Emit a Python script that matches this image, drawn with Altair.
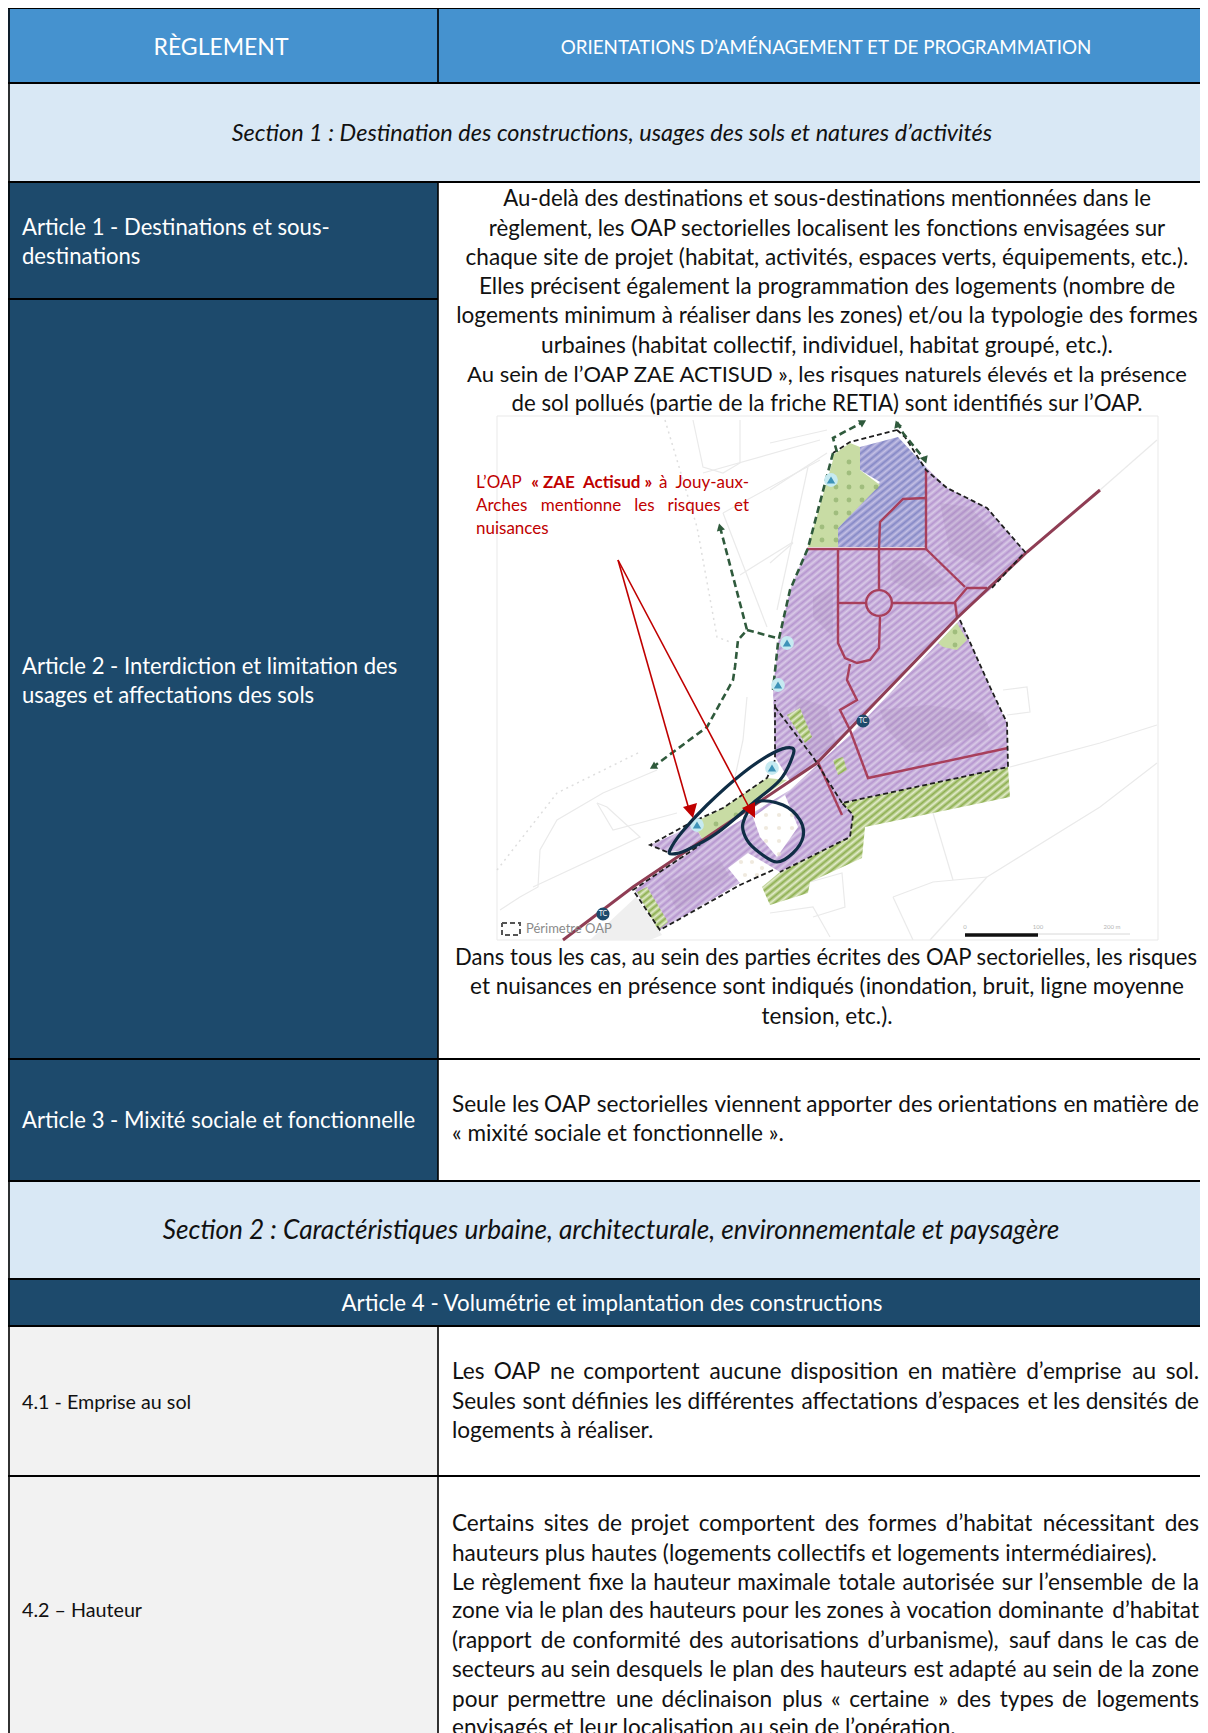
import math
import altair as alt
import pandas as pd

# ---------- table ----------
CELL_X0 = [8, 438, 8, 8, 438, 8, 438, 8, 8, 8, 438, 8, 438]
CELL_X1 = [438, 1208, 1208, 438, 1208, 438, 1208, 1208, 1208, 438, 1208, 438, 1208]
CELL_Y0 = [8, 8, 83, 182, 182, 1059, 1059, 1181, 1279, 1326, 1326, 1476, 1476]
CELL_Y1 = [83, 83, 182, 1059, 1059, 1181, 1181, 1279, 1326, 1476, 1476, 1733, 1733]
CELL_FILL = ["#4592CF", "#4592CF", "#D9E8F5", "#1D4A6C", "#FFFFFF", "#1D4A6C", "#FFFFFF",
             "#D9E8F5", "#1D4A6C", "#F2F2F2", "#FFFFFF", "#F2F2F2", "#FFFFFF"]

HLINE_Y = [8, 83, 182, 299, 1059, 1181, 1279, 1326, 1476]
HLINE_X0 = [8, 8, 8, 8, 8, 8, 8, 8, 8]
HLINE_X1 = [1208, 1208, 1208, 438, 1208, 1208, 1208, 1208, 1208]
VLINE_X = [9, 438, 438, 438]
VLINE_Y0 = [8, 8, 182, 1326]
VLINE_Y1 = [1733, 83, 1181, 1733]

HEADERS = ["RÈGLEMENT", "ORIENTATIONS D’AMÉNAGEMENT ET DE PROGRAMMATION"]
HEADER_X = [221, 826]
HEADER_SIZE = [23, 18.8]
SECTIONS = ["Section 1 : Destination des constructions, usages des sols et natures d’activités",
            "Section 2 : Caractéristiques urbaine, architecturale, environnementale et paysagère"]
SECTION_X = [612, 611]
SECTION_Y = [134, 1231]
SECTION_SIZE = [23.5, 26.2]

LEFT_LABELS = ["Article 1 - Destinations et sous-", "destinations",
               "Article 2 - Interdiction et limitation des", "usages et affectations des sols",
               "Article 3 - Mixité sociale et fonctionnelle"]
LEFT_Y = [228, 257, 667, 696, 1121]
SMALL_LABELS = ["4.1 - Emprise au sol", "4.2 – Hauteur"]
SMALL_Y = [1403, 1611]

CENTER_LINES = [
    "Au-delà des destinations et sous-destinations mentionnées dans le",
    "règlement, les OAP sectorielles localisent les fonctions envisagées sur",
    "chaque site de projet (habitat, activités, espaces verts, équipements, etc.).",
    "Elles précisent également la programmation des logements (nombre de",
    "logements minimum à réaliser dans les zones) et/ou la typologie des formes",
    "urbaines (habitat collectif, individuel, habitat groupé, etc.).",
    "Au sein de l’OAP ZAE ACTISUD », les risques naturels élevés et la présence",
    "de sol pollués (partie de la friche RETIA) sont identifiés sur l’OAP.",
    "Dans tous les cas, au sein des parties écrites des OAP sectorielles, les risques",
    "et nuisances en présence sont indiqués (inondation, bruit, ligne moyenne",
    "tension, etc.).",
]
CENTER_Y = [199, 228.5, 257.5, 287, 316, 346, 375, 404, 957.5, 987, 1017]
CENTER_SIZE = [22.2, 22.25, 22.6, 22.55, 22.55, 22.7, 22.0, 22.25, 22.1, 22.5, 22.5]
CENTER_X = [827, 827, 827, 827, 827, 827, 827, 827, 826, 827, 827]

JUST_LINES = [
    "Seule les OAP sectorielles viennent apporter des orientations en matière de",
    "Les OAP ne comportent aucune disposition en matière d’emprise au sol.",
    "Seules sont définies les différentes affectations d’espaces et les densités de",
    "Certains sites de projet comportent des formes d’habitat nécessitant des",
    "Le règlement fixe la hauteur maximale totale autorisée sur l’ensemble de la",
    "zone via le plan des hauteurs pour les zones à vocation dominante d’habitat",
    "(rapport de conformité des autorisations d’urbanisme), sauf dans le cas de",
    "secteurs au sein desquels le plan des hauteurs est adapté au sein de la zone",
    "pour permettre une déclinaison plus « certaine » des types de logements",
]
JUST_Y = [1105, 1372, 1401.5, 1524, 1582.5, 1611, 1640.5, 1670, 1699.5]
PLAIN_LINES = [
    "« mixité sociale et fonctionnelle ».",
    "logements à réaliser.",
    "hauteurs plus hautes (logements collectifs et logements intermédiaires).",
    "envisagés et leur localisation au sein de l’opération.",
]
PLAIN_Y = [1134, 1431, 1553.5, 1728]

RED_TOKENS = [["L’OAP", "« ZAE", "Actisud »", "à", "Jouy-aux-"],
              ["Arches", "mentionne", "les", "risques", "et"]]
RED_BOLD = ["« ZAE", "Actisud »"]
RED_Y = [483, 506]
RED_LAST = "nuisances"
RED_LAST_Y = 529

# ---------- map shapes ----------
MAP_FRAME = [(497, 416), (1158, 416), (1158, 940), (497, 940), (497, 416)]
URBAN = [(606, 925), (636, 897), (662, 935), (650, 940), (590, 940)]
PURPLE_N = [(807, 548), (790, 590), (778, 643), (773, 690), (775, 757), (790, 781), (817, 763),
            (957, 618), (990, 590), (1025, 552), (987, 508), (947, 488), (926, 467), (926, 549)]
PURPLE_S = [(960, 620), (990, 687), (1007, 723), (1008, 767), (842, 803), (853, 815), (850, 837),
            (780, 872), (748, 853), (728, 868), (740, 883), (660, 930), (635, 890), (647, 880),
            (700, 845), (790, 790), (850, 735)]
PURPLE_W = [(650, 845), (677, 833), (693, 823), (703, 840), (687, 850), (667, 852)]
BLUE = [(860, 453), (860, 470), (880, 482), (838, 528), (838, 547), (926, 547), (926, 467),
        (898, 437), (860, 447)]
BUILDINGS = [
    [(880, 710), (927, 705), (983, 713), (990, 730), (937, 750), (910, 753), (887, 730)],
    [(940, 503), (970, 507), (1003, 543), (983, 567), (950, 553)],
    [(893, 560), (920, 560), (947, 583), (917, 593), (890, 580)],
    [(813, 597), (833, 587), (833, 637), (813, 617)],
    [(797, 697), (827, 707), (837, 747), (813, 757), (793, 723)],
    [(663, 883), (720, 860), (730, 877), (677, 910)],
]
WHITE_BLOCK = [(753, 817), (785, 795), (798, 827), (777, 857), (760, 837)]
GREEN_SOLID = [
    [(833, 455), (850, 443), (860, 447), (860, 470), (880, 485), (838, 528), (838, 547), (808, 547), (833, 460)],
    [(693, 823), (723, 808), (767, 778), (787, 780), (753, 803), (703, 840)],
    [(938, 643), (957, 623), (967, 640), (957, 650), (943, 647)],
]
GREEN_HATCH = [
    [(842, 803), (1008, 767), (1010, 797), (933, 813), (865, 827), (862, 858), (810, 882), (808, 893),
     (770, 905), (762, 887), (780, 872), (850, 837), (853, 815)],
    [(787, 715), (800, 708), (812, 737), (805, 743)],
    [(833, 760), (843, 757), (847, 770), (838, 775)],
    [(637, 892), (647, 887), (668, 922), (658, 930)],
]
GREY_LINES = [
    [(693, 420), (703, 467), (723, 473), (740, 463), (740, 420)],
    [(703, 473), (820, 440)], [(723, 513), (820, 460)], [(770, 443), (827, 430)],
    [(740, 575), (793, 542)], [(723, 513), (767, 627)], [(770, 490), (827, 453)],
    [(770, 563), (793, 543)], [(808, 467), (777, 610)],
    [(533, 887), (640, 837), (607, 807), (597, 803)],
    [(500, 910), (520, 897), (538, 887), (540, 850), (557, 820), (603, 793), (657, 770)],
    [(597, 803), (613, 830), (677, 813)], [(747, 697), (743, 740), (735, 777)],
    [(933, 813), (953, 880)], [(893, 897), (933, 882), (987, 877)], [(893, 897), (913, 940)],
    [(987, 877), (930, 940)], [(987, 877), (1100, 807), (1157, 763)],
    [(1010, 767), (1100, 743), (1157, 725)],
    [(1003, 690), (1027, 687), (1030, 712), (1007, 715)],
    [(810, 882), (842, 873), (845, 907), (813, 917)], [(770, 913), (813, 907), (830, 937)],
    [(1100, 490), (1157, 440)],
]
GREY_DOTTED = [
    [(665, 420), (697, 527), (717, 637), (730, 642)],
    [(497, 870), (557, 793), (640, 752)],
]
ROADS = [
    [(807, 549), (926, 549)], [(926, 470), (926, 549)],
    [(926, 498), (903, 499), (880, 522), (879, 548)], [(879, 548), (879, 590)],
    [(838, 548), (838, 643), (845, 658), (857, 663), (870, 660), (879, 648), (880, 617)],
    [(838, 603), (867, 603)], [(892, 603), (955, 603)], [(926, 549), (965, 587)],
    [(987, 588), (967, 588), (955, 602), (957, 617)],
    [(850, 664), (847, 680), (857, 700), (840, 710), (850, 730), (868, 778), (1008, 748)],
    [(817, 760), (842, 815)],
]
ROUNDABOUT = [(879, 603)]
RAIL = [(563, 940), (633, 887), (817, 763), (957, 618), (1027, 552), (1100, 490)]
BLACK_DASH = [
    [(897, 430), (905, 437), (926, 470), (947, 488), (987, 508), (1025, 552), (990, 590)],
    [(960, 620), (990, 687), (1007, 723), (1008, 767), (842, 803), (853, 815), (850, 837), (780, 872)],
    [(773, 870), (740, 885), (660, 930), (633, 890), (700, 845)],
    [(667, 852), (650, 845), (690, 823), (723, 808), (767, 778), (775, 760), (775, 700)],
    [(775, 707), (813, 757), (842, 803)],
    [(833, 453), (850, 442), (897, 430)],
]
GREEN_DASH = [
    [(833, 453), (808, 548), (790, 590), (778, 643), (773, 690)],
    [(837, 452), (833, 438), (863, 422)],
    [(897, 422), (903, 433), (925, 460)],
    [(720, 527), (747, 630), (738, 640), (735, 667), (733, 680), (707, 727), (653, 767)],
    [(747, 630), (777, 638)],
]
GREEN_ARROW_X = [720, 863, 897, 925, 653]
GREEN_ARROW_Y = [527, 422, 424, 460, 767]
GREEN_ARROW_A = [345, 60, 340, 160, 240]
ELLIPSE_A = [(670, 850), (682, 832), (707, 805), (743, 773), (773, 753), (792, 748), (792, 758),
             (780, 780), (753, 803), (717, 833), (687, 850), (672, 854)]
ELLIPSE_B = [(757, 802), (783, 805), (800, 820), (803, 837), (793, 853), (777, 862), (760, 853),
             (747, 840), (743, 823)]
RED_LINES = [[(618, 560), (690, 813)], [(618, 560), (752, 813)]]
RED_HEADS = [[(683, 807), (697, 803), (693, 818)], [(742, 808), (755, 802), (755, 818)]]
DOTS_GREEN = [(849, 462), (849, 473), (836, 487), (849, 487), (862, 487), (876, 487), (836, 500),
              (849, 500), (862, 500), (836, 513), (849, 513), (822, 527), (836, 527), (822, 540),
              (836, 540), (955, 632), (955, 645), (716, 824), (736, 815)]
DOTS_TAN = [(766, 815), (779, 815), (792, 815), (766, 828), (779, 828), (792, 828), (766, 841),
            (779, 841), (779, 854), (741, 862), (752, 862), (762, 868), (745, 875), (757, 875)]
CYAN_MARKS = [(787, 643), (778, 685), (831, 480), (772, 768), (697, 825)]
TC_MARKS = [(603, 914), (863, 721)]
LEGEND_BOX = [(502, 923), (520, 923), (520, 935), (502, 935), (502, 923)]
SCALE_BAR = [(965, 935), (1038, 935)]
SCALE_THIN = [(1038, 934), (1130, 934)]
SCALE_TEXT = ["0", "100", "200 m"]
SCALE_TEXT_X = [965, 1038, 1112]

# ---------- helpers ----------
X = alt.X("x:Q", scale=alt.Scale(domain=[8, 1200], nice=False, zero=False), axis=None)
Y = alt.Y("y:Q", scale=alt.Scale(domain=[1733, 8], nice=False, zero=False), axis=None)

W = dict(zip("abcdefghijklmnopqrstuvwxyz",
             [506, 560, 466, 560, 524, 322, 504, 549, 240, 240, 513, 240, 811, 549, 571, 552, 560,
              368, 429, 349, 549, 498, 750, 492, 498, 451]))
W.update(dict(zip("ABCDEFGHIJKLMNOPQRSTUVWXYZ",
                  [680, 650, 660, 740, 580, 560, 710, 740, 270, 400, 650, 490, 900, 750, 800, 600,
                   800, 630, 560, 580, 720, 680, 1020, 650, 620, 620])))
ACC = str.maketrans("àâéèêëîïôùûç", "aaeeeeiioouc")


def est(word, size):
    s = 0
    for ch in word.translate(ACC):
        if ch in W:
            s += W[ch]
        elif ch.isdigit():
            s += 580
        elif ch in "«»":
            s += 430
        elif ch == "-":
            s += 370
        elif ch in ".,:’":
            s += 230
        else:
            s += 300
    return 1.02 * s * size / 1000


def justify(tokens, left, right, y, size):
    total = sum(est(t, size) for t in tokens)
    gap = (right - left - total) / (len(tokens) - 1)
    rows, x = [], left
    for t in tokens:
        rows.append({"x": x, "y": y, "t": t, "r": x + est(t, size)})
        x += est(t, size) + gap
    return rows


def pts(seq):
    return pd.DataFrame([{"x": a, "y": b, "i": i} for i, (a, b) in enumerate(seq)])


def stripes(seq, a, b, pitch=5.4, dx=1.0, dy=-0.82):
    xs = [p[0] for p in seq]
    ys = [p[1] for p in seq]
    w, h = max(xs) - min(xs), max(ys) - min(ys)
    nx, ny = dy / h, -dx / w
    nn = nx * nx + ny * ny
    ts = [((cx - .5) * nx + (cy - .5) * ny) / nn for cx in (0, 1) for cy in (0, 1)]
    t0, t1 = min(ts), max(ts)
    x1, y1 = .5 + nx * t0, .5 + ny * t0
    x2, y2 = .5 + nx * t1, .5 + ny * t1
    vx, vy = (x2 - x1) * w, (y2 - y1) * h
    dist = abs(vx * dy - vy * dx) / math.hypot(dx, dy)
    n = max(2, round(dist / pitch))
    st = []
    for i in range(n):
        st.append({"offset": i / n, "color": a})
        st.append({"offset": (i + .5) / n, "color": b})
    st.append({"offset": 1, "color": a})
    return {"gradient": "linear", "stops": st, "x1": x1, "y1": y1, "x2": x2, "y2": y2}


def poly(seq, fill, opacity=1.0):
    return alt.Chart(pts(seq)).mark_line(interpolate="linear-closed", fill=fill, fillOpacity=opacity,
                                         stroke="transparent", strokeWidth=0).encode(
        x=X, y=Y, order=alt.Order("i:Q"))


def line(seq, color, width, dash=None, interp="linear", opacity=1.0):
    kw = {"strokeDash": dash} if dash else {}
    return alt.Chart(pts(seq)).mark_line(color=color, strokeWidth=width, interpolate=interp,
                                         opacity=opacity, **kw).encode(x=X, y=Y, order=alt.Order("i:Q"))


def text(rows, **mk):
    return alt.Chart(pd.DataFrame(rows)).mark_text(baseline="middle", **mk).encode(x=X, y=Y, text="t:N")


def points(seq, **mk):
    return alt.Chart(pts(seq)).mark_point(filled=True, **mk).encode(x=X, y=Y)


# ---------- layers ----------
layers = []
cells = pd.DataFrame({"x": CELL_X0, "x2": CELL_X1, "y": CELL_Y0, "y2": CELL_Y1, "f": CELL_FILL})
layers.append(alt.Chart(cells).mark_rect().encode(
    x=X, x2="x2:Q", y=Y, y2="y2:Q", fill=alt.Fill("f:N", scale=None)))

layers.append(line(MAP_FRAME, "#E9E9E9", 1))
layers.append(poly(URBAN, "#EFEFEF"))
for g in GREY_LINES:
    layers.append(line(g, "#EAEAEA", 1.2))
for g in GREY_DOTTED:
    layers.append(line(g, "#DEDEDE", 1.5, dash=[2, 4]))

PURPLE_A, PURPLE_B = "#B696CF", "#D9CAE7"
for g in (PURPLE_N, PURPLE_S, PURPLE_W):
    layers.append(poly(g, stripes(g, PURPLE_A, PURPLE_B)))
layers.append(poly(BLUE, stripes(BLUE, "#8588C6", "#C4C0E5")))
for g in BUILDINGS:
    layers.append(poly(g, "#9C82AE", 0.18))
layers.append(poly(WHITE_BLOCK, "#FFFFFF"))
for g in GREEN_SOLID:
    layers.append(poly(g, "#C8DCA4"))
for g in GREEN_HATCH:
    layers.append(poly(g, stripes(g, "#8DAF50", "#E3ECCB")))
layers.append(points(DOTS_GREEN, color="#8FAF6C", size=24))
layers.append(points(DOTS_TAN, color="#E8DFD0", size=18))

for g in ROADS:
    layers.append(line(g, "#A83F5B", 2.4))
layers.append(alt.Chart(pts(ROUNDABOUT)).mark_point(shape="circle", filled=False, color="#A83F5B",
                                                    strokeWidth=2.4, size=660, opacity=1).encode(x=X, y=Y))
layers.append(line(RAIL, "#8F3D54", 3))
for g in BLACK_DASH:
    layers.append(line(g, "#1E1E1E", 1.8, dash=[5, 3]))
for g in GREEN_DASH:
    layers.append(line(g, "#2F5A3C", 2.6, dash=[7, 4]))
arrows = pd.DataFrame({"x": GREEN_ARROW_X, "y": GREEN_ARROW_Y, "a": GREEN_ARROW_A})
layers.append(alt.Chart(arrows).mark_point(shape="triangle-up", filled=True, color="#2F5A3C", size=70,
                                           opacity=1).encode(x=X, y=Y, angle=alt.Angle("a:Q", scale=None)))
layers.append(points(CYAN_MARKS, shape="circle", color="#C6EAF1", size=190, opacity=1))
layers.append(points(CYAN_MARKS, shape="triangle-up", color="#3E93B8", size=70, opacity=1))
layers.append(points(TC_MARKS, shape="circle", color="#1D4A6C", size=170, opacity=1))
layers.append(text([{"x": a, "y": b, "t": "TC"} for a, b in TC_MARKS], align="center", font="Lato",
                   fontSize=7, color="#FFFFFF"))
layers.append(line(LEGEND_BOX, "#555555", 2, dash=[5, 3]))
layers.append(text([{"x": 526, "y": 929, "t": "Périmetre OAP"}], align="left", font="Lato", fontSize=13,
                   color="#8A8A8A"))
layers.append(line(SCALE_THIN, "#D8D8D8", 1))
layers.append(line(SCALE_BAR, "#111111", 3.5))
layers.append(text([{"x": a, "y": 927, "t": t} for a, t in zip(SCALE_TEXT_X, SCALE_TEXT)], align="center",
                   font="Lato", fontSize=6, color="#B5B5B5"))

layers.append(line(ELLIPSE_A, "#0F2D45", 3.2, interp="cardinal-closed"))
layers.append(line(ELLIPSE_B, "#0F2D45", 3.2, interp="cardinal-closed"))
for g in RED_LINES:
    layers.append(line(g, "#C00000", 1.6))
for g in RED_HEADS:
    layers.append(poly(g, "#C00000"))

# red note
RS = 17
reg, bold, last = [], [], []
for tk, yy in zip(RED_TOKENS, RED_Y):
    for k, r in enumerate(justify(tk, 476, 749, yy, RS)):
        if r["t"] in RED_BOLD:
            bold.append(r)
        elif k == len(tk) - 1:
            last.append({"x": 749, "y": yy, "t": r["t"]})
        else:
            reg.append(r)
reg.append({"x": 476, "y": RED_LAST_Y, "t": RED_LAST})
layers.append(text(reg, align="left", font="Lato", fontSize=RS, color="#C00000"))
layers.append(text(last, align="right", font="Lato", fontSize=RS, color="#C00000"))
layers.append(text(bold, align="left", font="Lato", fontSize=RS, fontWeight="bold", color="#C00000"))

# headers
for t, xx, sz in zip(HEADERS, HEADER_X, HEADER_SIZE):
    layers.append(text([{"x": xx, "y": 48, "t": t}], align="center", font="Lato",
                       fontSize=sz, color="#FFFFFF"))
# sections
for t, xx, yy, sz in zip(SECTIONS, SECTION_X, SECTION_Y, SECTION_SIZE):
    layers.append(text([{"x": xx, "y": yy, "t": t}], align="center", font="Lato", fontStyle="italic",
                       fontSize=sz, color="#111111"))
layers.append(text([{"x": 612, "y": 1304, "t": "Article 4 - Volumétrie et implantation des constructions"}],
                   align="center", font="Lato", fontSize=22.3, color="#FFFFFF"))
# left column
layers.append(text([{"x": 22, "y": yy, "t": t} for t, yy in zip(LEFT_LABELS, LEFT_Y)], align="left",
                   font="Lato", fontSize=22.1, color="#FFFFFF"))
layers.append(text([{"x": 22, "y": yy, "t": t} for t, yy in zip(SMALL_LABELS, SMALL_Y)], align="left",
                   font="Lato", fontSize=19.7, color="#111111"))
# right column
BS = 22.6
for t, xx, yy, sz in zip(CENTER_LINES, CENTER_X, CENTER_Y, CENTER_SIZE):
    layers.append(text([{"x": xx, "y": yy, "t": t}], align="center", font="Lato", fontSize=sz,
                       color="#111111"))
layers.append(text([{"x": 452, "y": yy, "t": t} for t, yy in zip(PLAIN_LINES, PLAIN_Y)], align="left",
                   font="Lato", fontSize=BS, color="#111111"))
lefts, rights = [], []
for t, yy in zip(JUST_LINES, JUST_Y):
    tk = t.split(" ")
    rr = justify(tk, 452, 1199, yy, BS)
    lefts += rr[:-1]
    rights.append({"x": 1199, "y": yy, "t": tk[-1]})
layers.append(text(lefts, align="left", font="Lato", fontSize=BS, color="#111111"))
layers.append(text(rights, align="right", font="Lato", fontSize=BS, color="#111111"))

# grid
hl = pd.DataFrame({"x": HLINE_X0, "x2": HLINE_X1, "y": HLINE_Y})
layers.append(alt.Chart(hl).mark_rule(color="#000000", strokeWidth=2).encode(x=X, x2="x2:Q", y=Y))
vl = pd.DataFrame({"x": VLINE_X, "y": VLINE_Y0, "y2": VLINE_Y1})
layers.append(alt.Chart(vl).mark_rule(color="#000000", strokeWidth=1.6).encode(x=X, y=Y, y2="y2:Q"))

chart = alt.layer(*layers).properties(
    width=1192, height=1725, padding=0, background="white",
    autosize=alt.AutoSizeParams(type="none"),
).configure_view(stroke=None)

chart.save("out.html", embed_options={"renderer": "svg", "actions": False})
